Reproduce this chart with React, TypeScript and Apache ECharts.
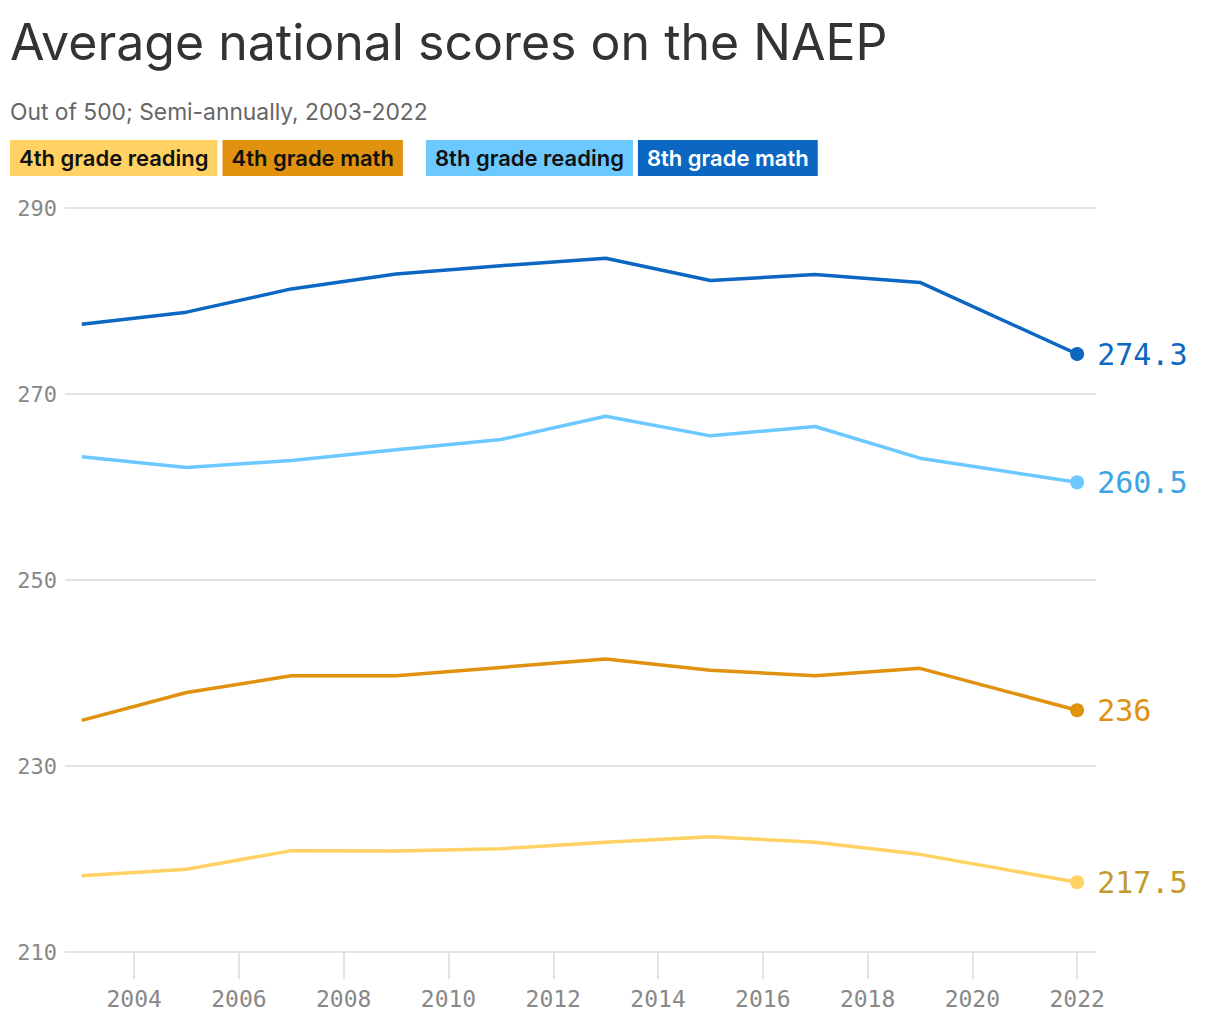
import React, { useEffect, useRef } from 'react';
import * as echarts from 'echarts';

const years = [2003, 2005, 2007, 2009, 2011, 2013, 2015, 2017, 2019, 2022];
const reading4th = [218.2, 218.9, 220.9, 220.85, 221.1, 221.8, 222.4, 221.8, 220.5, 217.5];
const math4th = [234.9, 237.9, 239.7, 239.7, 240.6, 241.5, 240.3, 239.7, 240.5, 236];
const reading8th = [263.25, 262.1, 262.85, 264.0, 265.1, 267.6, 265.5, 266.5, 263.1, 260.5];
const math8th = [277.5, 278.8, 281.3, 282.9, 283.8, 284.6, 282.2, 282.85, 282.0, 274.3];

const xTicks = [2004, 2006, 2008, 2010, 2012, 2014, 2016, 2018, 2020, 2022];
const yTicks = [210, 230, 250, 270, 290];

const seriesNames = ['4th grade reading', '4th grade math', '8th grade reading', '8th grade math'];
const seriesValues = [reading4th, math4th, reading8th, math8th];
const lineColors = ['#ffd263', '#e0910e', '#6cc9ff', '#0b67c2'];
const labelColors = ['#c29b2c', '#e0910e', '#3ba5e4', '#0b67c2'];
const legendTextColors = ['#111', '#111', '#111', '#fff'];

const MONO = '"DejaVu Sans Mono", "Liberation Mono", monospace';
const SANS = 'Inter, "Noto Sans", Roboto, sans-serif';

const App: React.FC = () => {
    const chartRef = useRef<HTMLDivElement>(null);

    useEffect(() => {
        document.body.style.margin = '0';
        if (!chartRef.current) return;

        const chart = echarts.init(chartRef.current, undefined, { renderer: 'svg' });
        const last = years.length - 1;

        const legendItem = (i: number) => ({
            name: seriesNames[i],
            textStyle: {
                color: legendTextColors[i],
                backgroundColor: lineColors[i],
                padding: [8, 9, 8, 9],
                fontFamily: SANS,
                fontWeight: 600,
                fontSize: 22,
                lineHeight: 20
            }
        });

        const legendBase = {
            top: 140,
            padding: 0,
            itemGap: 0,
            itemWidth: 0,
            itemHeight: 0,
            icon: 'none',
            selectedMode: false as const
        };

        const option = {
            animation: false,
            title: [
                {
                    text: 'Average national scores on the NAEP',
                    left: 10,
                    top: 17,
                    padding: 0,
                    textStyle: { fontFamily: SANS, fontSize: 50, fontWeight: 400, color: '#333' }
                },
                {
                    text: 'Out of 500; Semi-annually, 2003-2022',
                    left: 10,
                    top: 100,
                    padding: 0,
                    textStyle: { fontFamily: SANS, fontSize: 22.8, fontWeight: 400, color: '#666' }
                }
            ],
            legend: [
                { ...legendBase, left: 5, data: [legendItem(0), legendItem(1)] },
                { ...legendBase, left: 421, data: [legendItem(2), legendItem(3)] }
            ],
            grid: { left: 65, right: 124, top: 208, bottom: 68 },
            xAxis: {
                type: 'value',
                min: 2002.68,
                max: 2022.36,
                axisLine: { show: false },
                splitLine: { show: false },
                axisTick: {
                    show: true,
                    customValues: xTicks,
                    length: 27,
                    lineStyle: { color: '#e3e3e3', width: 2 }
                },
                axisLabel: {
                    customValues: xTicks,
                    margin: 35,
                    color: '#888',
                    fontFamily: MONO,
                    fontSize: 23,
                    formatter: (v: number) => String(v)
                }
            },
            yAxis: {
                type: 'value',
                min: yTicks[0],
                max: yTicks[yTicks.length - 1],
                interval: 20,
                axisLine: { show: false },
                axisTick: { show: false },
                splitLine: { lineStyle: { color: '#e3e3e3', width: 2 } },
                axisLabel: {
                    margin: 8,
                    color: '#888',
                    fontFamily: MONO,
                    fontSize: 22
                }
            },
            series: seriesNames.map((name, i) => ({
                name,
                type: 'line',
                data: years.map((y, j) => [y, seriesValues[i][j]]),
                symbol: 'circle',
                showSymbol: true,
                symbolSize: (_v: unknown, p: { dataIndex: number }) => (p.dataIndex === last ? 14 : 0),
                color: lineColors[i],
                lineStyle: { width: 3.5, color: lineColors[i] },
                itemStyle: { color: lineColors[i] },
                emphasis: { disabled: true },
                endLabel: {
                    show: true,
                    distance: 20,
                    color: labelColors[i],
                    fontFamily: MONO,
                    fontSize: 30,
                    formatter: () => String(seriesValues[i][last])
                }
            }))
        };

        chart.setOption(option);

        const handleResize = () => chart.resize();
        window.addEventListener('resize', handleResize);

        return () => {
            window.removeEventListener('resize', handleResize);
            chart.dispose();
        };
    }, []);

    return <div ref={chartRef} style={{ width: 1220, height: 1020 }} />;
};

export default App;
